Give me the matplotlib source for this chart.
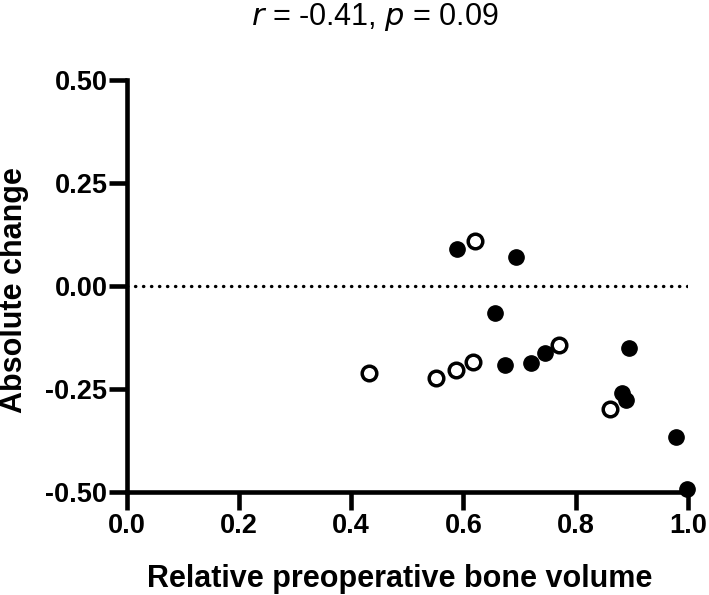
import matplotlib
matplotlib.use("Agg")
import matplotlib.pyplot as plt

plt.rcParams['font.family'] = ['Liberation Sans', 'DejaVu Sans']

# filled circles
filled_x = [0.589, 0.694, 0.657, 0.674, 0.721, 0.745, 0.895, 0.882, 0.890, 0.979, 0.998]
filled_y = [0.090, 0.069, -0.065, -0.192, -0.188, -0.162, -0.150, -0.260, -0.277, -0.366, -0.493]
# open circles
open_x = [0.620, 0.432, 0.552, 0.587, 0.618, 0.771, 0.862]
open_y = [0.108, -0.212, -0.224, -0.204, -0.185, -0.144, -0.299]

x_ticks = [0.0, 0.2, 0.4, 0.6, 0.8, 1.0]
y_ticks = [-0.50, -0.25, 0.00, 0.25, 0.50]

fig = plt.figure(figsize=(7.09, 5.95), dpi=100)
ax = fig.add_axes([0.179, 0.173, 0.791, 0.693])

ax.plot([0, 1], [0, 0], color='black', lw=2.4, linestyle=(0, (0.1, 2.3)),
        dash_capstyle='round', zorder=1)

ax.plot(filled_x, filled_y, 'o', color='black', ms=11, clip_on=False, zorder=3)
ax.plot(open_x, open_y, 'o', mfc='white', mec='black', mew=2.5, ms=10.5,
        clip_on=False, zorder=3)

ax.set_xlim(0, 1.0)
ax.set_ylim(-0.5, 0.5)
ax.set_xticks(x_ticks)
ax.set_yticks(y_ticks)
ax.set_xticklabels([f"{v:.1f}" for v in x_ticks])
ax.set_yticklabels([f"{v:.2f}" for v in y_ticks])

for s in ['top', 'right']:
    ax.spines[s].set_visible(False)
for s in ['left', 'bottom']:
    ax.spines[s].set_linewidth(3.3)
ax.tick_params(axis='x', width=3.3, length=13, labelsize=19.5, pad=2)
ax.tick_params(axis='y', width=3.3, length=13, labelsize=19.5, pad=1)
for lab in ax.get_xticklabels() + ax.get_yticklabels():
    lab.set_fontweight('bold')

fig.text(400 / 709, 8 / 595, 'Relative preoperative bone volume', fontsize=22,
         fontweight='bold', ha='center', va='baseline')
fig.text(14 / 709, 1 - 290 / 595, 'Absolute change', fontsize=22,
         fontweight='bold', ha='center', va='center', rotation=90)

fig.text(375 / 709, 1 - 25 / 595, r'$\it{r}$ = -0.41, $\it{p}$ = 0.09',
         ha='center', va='baseline', fontsize=22)

fig.savefig('out.png', dpi=100)
